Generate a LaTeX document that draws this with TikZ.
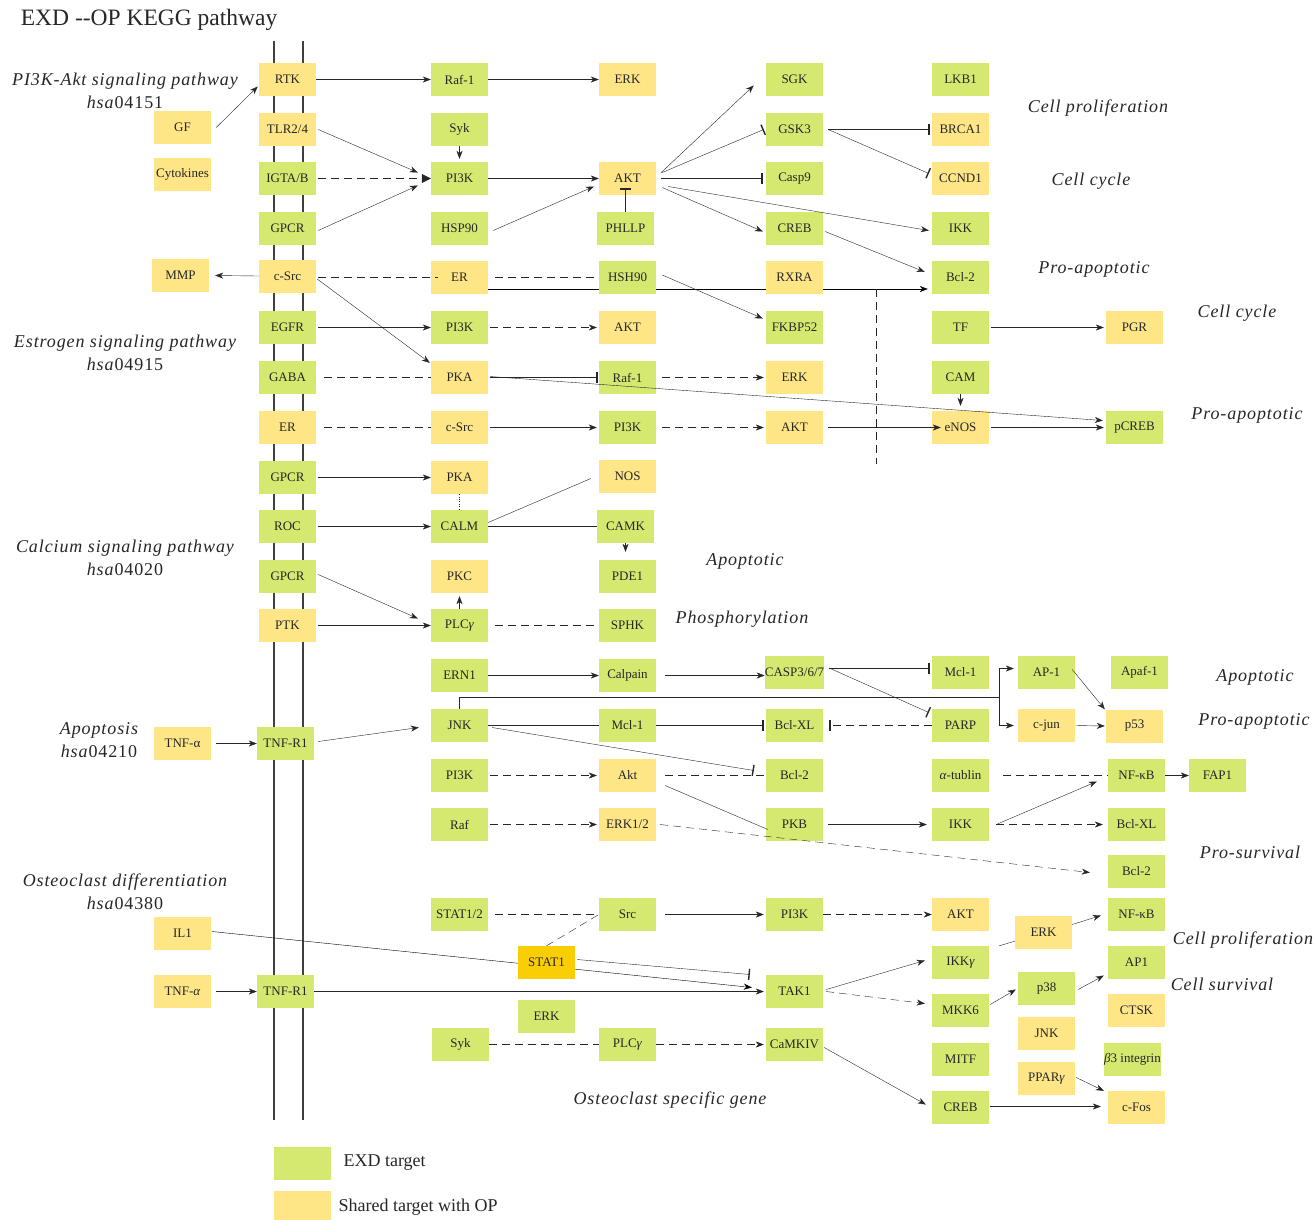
\documentclass[tikz,border=0pt]{standalone}
\usepackage{fontspec}
\setmainfont{Liberation Serif}
\definecolor{expgreen}{RGB}{213,233,113}
\definecolor{sharedyellow}{RGB}{254,230,135}
\definecolor{statgold}{RGB}{250,206,5}
\usetikzlibrary{arrows.meta,calc,backgrounds}

\begin{document}
\begin{tikzpicture}[x=1pt,y=-1pt,line width=1.1pt,color=black!85,
    gbox/.style={fill=expgreen,minimum width=57pt,minimum height=33pt,inner sep=0pt,font=\fontsize{13}{15}\selectfont},
    ybox/.style={gbox,fill=sharedyellow},
    lbl/.style={font=\fontsize{18}{23}\selectfont\itshape\addfontfeature{LetterSpace=5},align=center},
    arr/.style={-{Stealth[length=8pt,width=6pt,inset=2.5pt]}},
    inh/.style={-{Bar[width=11pt,line width=1.4pt]}},
    tri/.style={-{Triangle[length=9pt,width=9pt]}},
    dsh/.style={dash pattern=on 8pt off 5pt}]
    \useasboundingbox (0,0) rectangle (1313,1219);

    \node[anchor=west,font=\fontsize{23.5}{26}\selectfont] (title) at (17,20) {EXD -{}-OP KEGG pathway};

    \node[lbl] (pwPI3K) at (125,90.5) {PI3K-Akt signaling pathway\\hsa\textup{04151}};
    \node[lbl] (pwEstr) at (125,353) {Estrogen signaling pathway\\hsa\textup{04915}};
    \node[lbl] (pwCalc) at (125,557.5) {Calcium signaling pathway\\hsa\textup{04020}};
    \node[lbl] (pwApop) at (99,740) {Apoptosis\\hsa\textup{04210}};
    \node[lbl] (pwOste) at (125,892) {Osteoclast differentiation\\hsa\textup{04380}};

    \node[lbl] (oProl) at (1098,108) {Cell proliferation};
    \node[lbl] (oCyc) at (1091,181) {Cell cycle};
    \node[lbl] (oPro) at (1094,269) {Pro-apoptotic};
    \node[lbl] (oCycb) at (1237,313) {Cell cycle};
    \node[lbl] (oProb) at (1247,415) {Pro-apoptotic};
    \node[lbl] (oApo) at (745,561) {Apoptotic};
    \node[lbl] (oPhos) at (742,619) {Phosphorylation};
    \node[lbl] (oApob) at (1255,677) {Apoptotic};
    \node[lbl] (oProc) at (1254,721) {Pro-apoptotic};
    \node[lbl] (oSurv) at (1250,852) {Pro-survival};
    \node[lbl] (oProlb) at (1243,940) {Cell proliferation};
    \node[lbl] (oCsur) at (1222,984) {Cell survival};
    \node[lbl] (oGene) at (670,1100) {Osteoclast specific gene};

    \begin{pgfonlayer}{background}
        \draw[line width=1.6pt,black!75] (274,41) -- (274,1120);
        \draw[line width=1.6pt,black!75] (303,41) -- (303,1120);
    \end{pgfonlayer}

    \node[ybox] (GF) at (182.5,127.5) {GF};
    \node[ybox] (Cytokines) at (182.5,174.5) {Cytokines};
    \node[ybox] (MMP) at (180.5,275.5) {MMP};
    \node[ybox] (TNFa1) at (182.5,743.5) {TNF-α};
    \node[ybox] (IL1) at (182.5,933.5) {IL1};
    \node[ybox] (TNFa2) at (182.5,991.5) {TNF-\textit{α}};

    \node[ybox] (RTK) at (287.5,79.5) {RTK};
    \node[ybox] (TLR) at (287.5,129.5) {TLR2/4};
    \node[gbox] (IGTA) at (287.5,178.5) {IGTA/B};
    \node[gbox] (GPCRa) at (287.5,228.5) {GPCR};
    \node[ybox] (cSrca) at (287.5,276) {c-Src};
    \node[gbox] (EGFR) at (287.5,327.5) {EGFR};
    \node[gbox] (GABA) at (287.5,377.5) {GABA};
    \node[ybox] (ERb) at (287.5,427.5) {ER};
    \node[gbox] (GPCRb) at (287.5,477.5) {GPCR};
    \node[gbox] (ROC) at (287.5,526.5) {ROC};
    \node[gbox] (GPCRc) at (287.5,576.5) {GPCR};
    \node[ybox] (PTK) at (287.5,625.5) {PTK};
    \node[gbox] (TNFR1a) at (285.5,743.5) {TNF-R1};
    \node[gbox] (TNFR1b) at (285.5,991.5) {TNF-R1};

    \node[gbox] (Raf1a) at (459.5,79.5) {Raf-1};
    \node[gbox] (Syka) at (459.5,129.5) {Syk};
    \node[gbox] (PI3Ka) at (459.5,178.5) {PI3K};
    \node[gbox] (HSP90) at (459.5,228.5) {HSP90};
    \node[ybox] (ERa) at (459.5,277) {ER};
    \node[gbox] (PI3Kb) at (459.5,327.5) {PI3K};
    \node[ybox] (PKAa) at (459.5,377.5) {PKA};
    \node[ybox] (cSrcb) at (459.5,427.5) {c-Src};
    \node[ybox] (PKAb) at (459.5,477.5) {PKA};
    \node[gbox] (CALM) at (459.5,526.5) {CALM};
    \node[ybox] (PKC) at (459.5,576.5) {PKC};
    \node[gbox] (PLCa) at (459.5,625.5) {PLC\textit{γ}};
    \node[gbox] (ERN1) at (459.5,675.5) {ERN1};
    \node[gbox] (JNKa) at (459.5,725.5) {JNK};
    \node[gbox] (PI3Kc) at (459.5,775.5) {PI3K};
    \node[gbox] (Raf) at (459.5,824.5) {Raf};
    \node[gbox] (STAT12) at (459.5,914.5) {STAT1/2};
    \node[gbox] (Sykb) at (460.5,1044.5) {Syk};

    \node[ybox] (ERKa) at (627.5,79.5) {ERK};
    \node[ybox] (AKTa) at (627.5,178.5) {AKT};
    \node[gbox] (PHLLP) at (625.5,228.5) {PHLLP};
    \node[gbox] (HSH90) at (627.5,277) {HSH90};
    \node[ybox] (AKTb) at (627.5,327.5) {AKT};
    \node[gbox] (Raf1b) at (627.5,377.5) {Raf-1};
    \node[gbox] (PI3Kd) at (627.5,427.5) {PI3K};
    \node[ybox] (NOS) at (627.5,476.5) {NOS};
    \node[gbox] (CAMK) at (625.5,526.5) {CAMK};
    \node[gbox] (PDE1) at (627.5,576.5) {PDE1};
    \node[gbox] (SPHK) at (627.5,625.5) {SPHK};
    \node[gbox] (Calpain) at (627.5,675.5) {Calpain};
    \node[gbox] (Mcl1a) at (627.5,725.5) {Mcl-1};
    \node[ybox] (Akt) at (627.5,775.5) {Akt};
    \node[ybox] (ERK12) at (627.5,824.5) {ERK1/2};
    \node[gbox] (Src) at (627.5,914.5) {Src};
    \node[gbox] (PLCb) at (627.5,1044.5) {PLC\textit{γ}};
    \node[gbox,fill=statgold] (STAT1) at (546.5,962.5) {STAT1};
    \node[gbox] (ERKc) at (546.5,1016.5) {ERK};

    \node[gbox] (SGK) at (794.5,79.5) {SGK};
    \node[gbox] (GSK3) at (794.5,129.5) {GSK3};
    \node[gbox] (Casp9) at (794.5,178.5) {Casp9};
    \node[gbox] (CREBa) at (794.5,228.5) {CREB};
    \node[ybox] (RXRA) at (794.5,277) {RXRA};
    \node[gbox] (FKBP52) at (794.5,327.5) {FKBP52};
    \node[ybox] (ERKb) at (794.5,377.5) {ERK};
    \node[ybox] (AKTc) at (794.5,427.5) {AKT};
    \node[gbox] (CASP) at (794.5,672.5) {CASP3/6/7};
    \node[gbox] (BclXLa) at (794.5,725.5) {Bcl-XL};
    \node[gbox] (Bcl2b) at (794.5,775.5) {Bcl-2};
    \node[gbox] (PKB) at (794.5,824.5) {PKB};
    \node[gbox] (PI3Ke) at (794.5,914.5) {PI3K};
    \node[gbox] (TAK1) at (794.5,991.5) {TAK1};
    \node[gbox] (CaMKIV) at (794.5,1044.5) {CaMKIV};

    \node[gbox] (LKB1) at (960.5,79.5) {LKB1};
    \node[ybox] (BRCA1) at (960.5,129.5) {BRCA1};
    \node[ybox] (CCND1) at (960.5,178.5) {CCND1};
    \node[gbox] (IKKa) at (960.5,228.5) {IKK};
    \node[gbox] (Bcl2a) at (960.5,277) {Bcl-2};
    \node[gbox] (TF) at (960.5,327.5) {TF};
    \node[gbox] (CAM) at (960.5,377.5) {CAM};
    \node[ybox] (eNOS) at (960.5,427.5) {eNOS};
    \node[gbox] (Mcl1b) at (960.5,672.5) {Mcl-1};
    \node[gbox] (PARP) at (960.5,725.5) {PARP};
    \node[gbox] (tublin) at (960.5,775.5) {\textit{α}-tublin};
    \node[gbox] (IKKb) at (960.5,824.5) {IKK};
    \node[ybox] (AKTd) at (960.5,914.5) {AKT};
    \node[gbox] (IKKg) at (960.5,962.5) {IKK\textit{γ}};
    \node[gbox] (MKK6) at (960.5,1010.5) {MKK6};
    \node[gbox] (MITF) at (960.5,1059.5) {MITF};
    \node[gbox] (CREBb) at (960.5,1107.5) {CREB};

    \node[gbox] (AP1a) at (1046.5,672.5) {AP-1};
    \node[ybox] (cjun) at (1046.5,725.5) {c-jun};
    \node[ybox] (ERKd) at (1043.5,932.5) {ERK};
    \node[gbox] (p38) at (1046.5,988.5) {p38};
    \node[ybox] (JNKb) at (1046.5,1033.5) {JNK};
    \node[ybox] (PPARg) at (1046.5,1078.5) {PPAR\textit{γ}};

    \node[ybox] (PGR) at (1134.5,327.5) {PGR};
    \node[gbox] (pCREB) at (1134.5,427.5) {pCREB};
    \node[gbox] (Apaf1) at (1139.5,672.5) {Apaf-1};
    \node[ybox] (p53) at (1134.5,726) {p53};
    \node[gbox] (NFkBa) at (1136.5,775.5) {NF-κB};
    \node[gbox] (FAP1) at (1217.5,775.5) {FAP1};
    \node[gbox] (BclXLb) at (1136.5,824.5) {Bcl-XL};
    \node[gbox] (Bcl2c) at (1136.5,871.5) {Bcl-2};
    \node[gbox] (NFkBb) at (1136.5,914.5) {NF-κB};
    \node[gbox] (AP1b) at (1136.5,962.5) {AP1};
    \node[ybox] (CTSK) at (1136.5,1010.5) {CTSK};
    \node[gbox] (integrin) at (1132.5,1059.5) {\textit{β}3 integrin};
    \node[ybox] (cFos) at (1136.5,1107.5) {c-Fos};

    \node[gbox] (legG) at (302.5,1163.5) {};
    \node[ybox] (legY) at (302.5,1207.5) {};
    \node[anchor=west,font=\fontsize{18}{20}\selectfont] (legGt) at (340,1163) {EXD target};
    \node[anchor=west,font=\fontsize{18}{20}\selectfont] (legYt) at (335,1207) {Shared target with OP};

    \begin{pgfonlayer}{background}
        \draw[arr] ($(ERa.east)+(0,12)$) -- ($(Bcl2a.west)+(-4,12)$);
        \draw[arr] ($(IL1.east)+(1,-2)$) -- ($(TAK1.west)+(-14,-4)$);
    \end{pgfonlayer}
    \coordinate (vtop) at (876,289);
    \coordinate (vbot) at (876,464);
    \draw[dsh] (vtop) -- (vbot);

    \draw[arr] ($(GF.east)+(5,0)$) -- ($(RTK.west)+(-1,7)$);
    \draw[arr] (RTK) -- (Raf1a);
    \draw[arr] (Raf1a) -- (ERKa);
    \draw[arr] (Syka.south) -- ($(PI3Ka.north)+(0,-3)$);
    \draw[arr] ($(TLR.east)+(2,0)$) -- ($(PI3Ka.west)+(-13,-6)$);
    \draw[dsh,tri] ($(IGTA.east)+(2,0)$) -- (PI3Ka.west);
    \draw[arr] ($(GPCRa.east)+(2,2)$) -- ($(PI3Ka.west)+(-13,7)$);
    \draw[arr] ($(HSP90.east)+(5,2)$) -- ($(AKTa.west)+(-5,8)$);
    \draw[arr] (PI3Ka) -- (AKTa);
    \draw[inh] (PHLLP.north) -- ($(PHLLP.north |- AKTa.south)+(0,-7)$);
    \draw[arr] ($(AKTa.east)+(5,-6)$) -- ($(SGK.west)+(-12,6)$);
    \draw[inh] ($(AKTa.east)+(6,-6)$) -- ($(GSK3.west)+(-2,0)$);
    \draw[inh] ($(AKTa.east)+(5,0)$) -- ($(Casp9.west)+(-3,0)$);
    \draw[arr] ($(AKTa.east)+(12,8)$) -- ($(IKKa.west)+(-3,2)$);
    \draw[arr] ($(AKTa.east)+(6,9)$) -- ($(CREBa.west)+(-3,3)$);
    \draw[inh] ($(GSK3.east)+(5,0)$) -- ($(BRCA1.west)+(-2,0)$);
    \draw[inh] ($(GSK3.east)+(5,0)$) -- ($(CCND1.west)+(-3,-5)$);
    \draw[arr] ($(CREBa.east)+(2,3)$) -- ($(Bcl2a.west)+(-7,-5)$);
    \draw[arr] (cSrca.west) -- ($(MMP.east)+(6,0)$);
    \draw[dsh] ($(cSrca.east)+(2,1)$) -- ($(ERa.west)+(7,0)$);
    \draw[dsh] ($(ERa.east)+(7,0)$) -- (HSH90.west);
    \draw[arr] ($(HSH90.east)+(6,-2)$) -- ($(FKBP52.west)+(-3,-9)$);
    \draw[arr] ($(EGFR.east)+(2,0)$) -- (PI3Kb.west);
    \draw[arr] ($(cSrca.east)+(1,3)$) -- ($(PKAa.north west)+(-1,2)$);
    \draw[dsh,arr] ($(PI3Kb.east)+(2,0)$) -- ($(AKTb.west)+(-2,0)$);
    \draw[dsh] ($(GABA.east)+(8,0)$) -- (PKAa.west);
    \draw[inh] ($(PKAa.east)+(2,0)$) -- ($(Raf1b.west)+(-1,0)$);
    \draw[arr] ($(PKAa.east)+(2,-1)$) -- ($(pCREB.west)+(-3,-7)$);
    \draw[dsh,arr] ($(Raf1b.east)+(6,0)$) -- ($(ERKb.west)+(-2,0)$);
    \draw[dsh] ($(ERb.east)+(8,0)$) -- (cSrcb.west);
    \draw[arr] ($(cSrcb.east)+(2,0)$) -- ($(PI3Kd.west)+(-2,0)$);
    \draw[dsh,arr] ($(PI3Kd.east)+(6,0)$) -- ($(AKTc.west)+(-2,0)$);
    \draw[arr] ($(AKTc.east)+(5,0)$) -- ($(eNOS.west)+(9,0)$);
    \draw[arr] ($(eNOS.east)+(2,0)$) -- ($(pCREB.west)+(-2,0)$);
    \draw[arr] (CAM.south) -- ($(eNOS.north)+(0,-5)$);
    \draw[arr] ($(TF.east)+(2,0)$) -- ($(PGR.west)+(-2,0)$);
    \draw[arr] ($(GPCRb.east)+(2,0)$) -- (PKAb.west);
    \draw[dotted] (PKAb.south) -- (CALM.north);
    \draw[arr] ($(ROC.east)+(2,0)$) -- (CALM.west);
    \draw ($(CALM.east)+(0,-4)$) -- ($(NOS.west)+(-8,2)$);
    \draw (CALM.east) -- (CAMK.west);
    \draw[arr] (CAMK.south) -- ($(CAMK.south |- PDE1.north)+(0,-8)$);
    \draw[arr] ($(GPCRc.east)+(2,-2)$) -- ($(PLCa.west)+(-13,-7)$);
    \draw[arr] ($(PTK.east)+(2,0)$) -- (PLCa.west);
    \draw[arr] (PLCa.north) -- ($(PKC.south)+(0,3)$);
    \draw[dsh] ($(PLCa.east)+(7,0)$) -- (SPHK.west);

    \draw[arr] (ERN1) -- (Calpain);
    \draw[arr] ($(Calpain.east)+(9,0)$) -- ($(CASP.west)+(0,3)$);
    \draw[inh] ($(CASP.east)+(5,-4)$) -- ($(Mcl1b.west)+(-2,-4)$);
    \draw[inh] ($(CASP.east)+(6,-4)$) -- ($(PARP.west)+(-3,-13)$);
    \coordinate (jbr) at (999,697);
    \draw (JNKa.north) |- (jbr);
    \draw[arr] (jbr) |- ($(AP1a.west)+(-4,-4)$);
    \draw[arr] (jbr) |- ($(cjun.west)+(-4,0)$);
    \draw[arr] ($(AP1a.east)+(-3,-3)$) -- ($(p53.north west)+(-1,0)$);
    \draw[arr] ($(cjun.east)+(1,0)$) -- ($(p53.west)+(-1,0)$);
    \draw (JNKa) -- (Mcl1a);
    \draw[inh] (Mcl1a) -- ($(BclXLa.west)+(-2,0)$);
    \draw[dsh,inh] (PARP.west) -- ($(BclXLa.east)+(6,0)$);
    \draw[inh] ($(JNKa.east)+(4,2)$) -- ($(Bcl2b.west)+(-12,-5)$);
    \draw[dsh,arr] ($(PI3Kc.east)+(2,0)$) -- ($(Akt.west)+(-2,0)$);
    \draw[dsh] ($(Akt.east)+(9,0)$) -- (Bcl2b.west);
    \draw ($(Akt.east)+(9,10)$) -- ($(PKB.west)+(2,5)$);
    \draw[dsh,arr] ($(Raf.east)+(2,0)$) -- ($(ERK12.west)+(-2,0)$);
    \draw[dsh,arr] ($(ERK12.east)+(4,0)$) -- ($(Bcl2c.west)+(-18,1)$);
    \draw[arr] ($(PKB.east)+(5,0)$) -- ($(IKKb.west)+(-5,0)$);
    \draw[arr] ($(IKKb.east)+(7,0)$) -- ($(NFkBa.west)+(-11,6)$);
    \draw[dsh,arr] ($(IKKb.east)+(7,0)$) -- ($(BclXLb.west)+(-5,0)$);
    \draw[dsh] ($(tublin.east)+(14,0)$) -- (NFkBa.west);
    \draw[arr] (NFkBa) -- (FAP1);
    \draw[arr] ($(TNFa1.east)+(5,0)$) -- (TNFR1a.west);
    \draw[arr] ($(TNFR1a.east)+(4,-2)$) -- ($(JNKa.west)+(-12,2)$);

    \draw[dsh] ($(STAT12.east)+(7,0)$) -- (Src.west);
    \draw[dsh] (STAT1.north) -- (Src.west);
    \draw[arr] ($(Src.east)+(9,0)$) -- ($(PI3Ke.west)+(-2,0)$);
    \draw[dsh,arr] (PI3Ke) -- (AKTd);
    \draw[inh] ($(STAT1.east)+(2,-3)$) -- ($(TAK1.west)+(-16,-17)$);
    \draw[arr] ($(TNFa2.east)+(5,0)$) -- (TNFR1b.west);
    \draw[arr] (TNFR1b) -- ($(TAK1.west)+(-2,0)$);
    \draw[arr] ($(TAK1.east)+(3,-2)$) -- ($(IKKg.west)+(-7,-2)$);
    \draw[dsh,arr] ($(TAK1.east)+(3,0)$) -- ($(MKK6.west)+(-7,-7)$);
    \draw ($(IKKg.north east)+(10,0)$) -- ($(ERKd.south west)+(0,-8)$);
    \draw[arr] ($(ERKd.east)+(0,-8)$) -- ($(NFkBb.west)+(-7,1)$);
    \draw[arr] ($(MKK6.east)+(1,-6)$) -- ($(p38.west)+(-2,1)$);
    \draw[arr] ($(p38.east)+(3,1)$) -- ($(AP1b.west)+(-4,13)$);
    \draw[arr] ($(PPARg.east)+(1,-1)$) -- ($(cFos.north west)+(-4,0)$);
    \draw[arr] ($(CREBb.east)+(1,-1)$) -- ($(cFos.west)+(-7,-1)$);
    \draw[arr] ($(CaMKIV.east)+(1,3)$) -- ($(CREBb.west)+(-6,-3)$);
    \draw[dsh] (Sykb) -- (PLCb);
    \draw[dsh,arr] (PLCb) -- ($(CaMKIV.west)+(-2,0)$);
\end{tikzpicture}
\end{document}
